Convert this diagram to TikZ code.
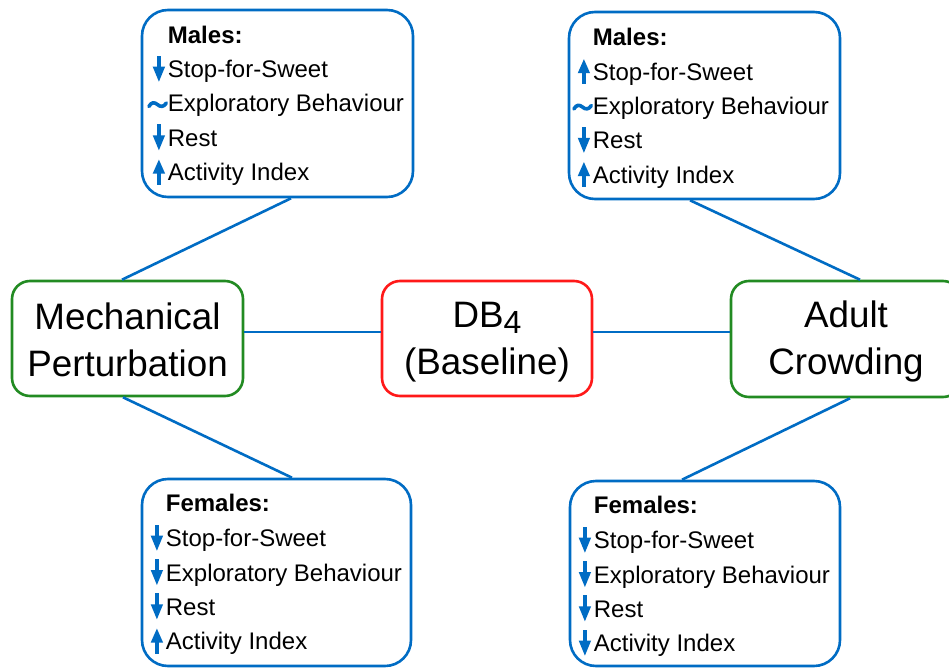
\documentclass[tikz,border=0pt]{standalone}
\usepackage{fontspec}
\setmainfont{Liberation Sans}
\usetikzlibrary{calc}

\definecolor{lineblue}{RGB}{0,108,196}
\definecolor{boxgreen}{RGB}{34,139,34}
\definecolor{boxred}{RGB}{255,25,25}

% small blue markers set in front of each entry
\newcommand\arrdown{\makebox[16pt][l]{\tikz[baseline=0pt,x=1pt,y=1pt]{%
  \useasboundingbox (0,-3) rectangle (16,21);
  \fill[lineblue] (5.4,8) rectangle (8.6,22);
  \fill[lineblue] (0.8,11) -- (13.2,11) -- (7,-4) -- cycle;}}}
\newcommand\arrup{\makebox[16pt][l]{\tikz[baseline=0pt,x=1pt,y=1pt]{%
  \useasboundingbox (0,-3) rectangle (16,21);
  \fill[lineblue] (5.4,-4) rectangle (8.6,9);
  \fill[lineblue] (0.8,7) -- (13.2,7) -- (7,21) -- cycle;}}}
\newcommand\tildemark{\makebox[16pt][l]{\tikz[baseline=0pt,x=1pt,y=1pt]{%
  \useasboundingbox (0,-3) rectangle (16,21);
  \draw[lineblue, line width=3.6pt, line cap=round]
    (-3,5.5) .. controls (-0.5,10) and (2.5,10) .. (5.5,7.5)
    .. controls (8.5,5) and (11.5,4.5) .. (14.5,9);}}}

\begin{document}
\begin{tikzpicture}[x=1pt,y=1pt,
  panel/.style={draw=lineblue, line width=2.6pt, rounded corners=26pt,
    inner sep=0pt},
  hub/.style={line width=2.6pt, rounded corners=18pt, inner sep=0pt},
  hubtext/.style={align=center, inner sep=0pt,
    font=\fontsize{36.8}{47}\selectfont},
  item/.style={anchor=base west, inner sep=0pt,
    font=\fontsize{24}{28}\selectfont},
  heading/.style={anchor=base west, inner sep=0pt,
    font=\fontsize{24}{28}\selectfont\bfseries},
  link/.style={draw=lineblue, line width=2.6pt}]

\useasboundingbox (0,0) rectangle (949,-668);
\fill[white] (0,0) rectangle (949,-668);
\clip (0,0) rectangle (949,-668);

% central hubs
\node[hub, draw=boxgreen, minimum width=231pt, minimum height=115pt]
  (mech) at (127.5,-338.5) {};
\node[hubtext] (mech-t) at ([yshift=-1pt]mech.center) {Mechanical\\Perturbation};
\node[hub, draw=boxred, minimum width=210pt, minimum height=115pt]
  (db) at (487,-338.5) {};
\node[hubtext] (db-t) at ([yshift=-4pt]db.center)
  {DB{\fontsize{32}{32}\selectfont\raisebox{-6pt}{4}}\\(Baseline)};
\node[hub, draw=boxgreen, minimum width=230pt, minimum height=116pt]
  (ac) at (846,-339) {};
\node[hubtext] (ac-t) at ([yshift=-2.5pt]ac.center) {Adult\\Crowding};

% outcome panels
\node[panel, minimum width=271pt, minimum height=187pt] (mm) at (277.5,-103.5) {};
\node[panel, minimum width=271pt, minimum height=187pt] (am) at (704.5,-105.5) {};
\node[panel, minimum width=269pt, minimum height=187pt] (mf) at (276.5,-572.5) {};
\node[panel, minimum width=270pt, minimum height=185pt] (af) at (705,-573.5) {};

% panel contents
\node[heading] (mm-h) at ($(mm.north west)+(27,-35)$) {Males:};
\foreach \s/\t [count=\i] in {\arrdown/Stop-for-Sweet,
    \tildemark/Exploratory Behaviour, \arrdown/Rest, \arrup/Activity Index}
  \node[item] (mm-\i) at ($(mm.north west)+(11,{-69-34.3*(\i-1)})$) {\s\t};

\node[heading] (am-h) at ($(am.north west)+(25,-35)$) {Males:};
\foreach \s/\t [count=\i] in {\arrup/Stop-for-Sweet,
    \tildemark/Exploratory Behaviour, \arrdown/Rest, \arrup/Activity Index}
  \node[item] (am-\i) at ($(am.north west)+(9,{-69.5-34.3*(\i-1)})$) {\s\t};

\node[heading] (mf-h) at ($(mf.north west)+(25,-34)$) {Females:};
\foreach \s/\t [count=\i] in {\arrdown/Stop-for-Sweet,
    \arrdown/Exploratory Behaviour, \arrdown/Rest, \arrup/Activity Index}
  \node[item] (mf-\i) at ($(mf.north west)+(9,{-69-34.3*(\i-1)})$) {\s\t};

\node[heading] (af-h) at ($(af.north west)+(25,-34)$) {Females:};
\foreach \s/\t [count=\i] in {\arrdown/Stop-for-Sweet,
    \arrdown/Exploratory Behaviour, \arrdown/Rest, \arrdown/Activity Index}
  \node[item] (af-\i) at ($(af.north west)+(9,{-69-34.3*(\i-1)})$) {\s\t};

% connectors
\draw[link] ([yshift=6.5pt]mech.east) -- ([yshift=6.5pt]db.west);
\draw[link] ([yshift=6.5pt]db.east) -- ([yshift=7pt]ac.west);
\draw[link] ([xshift=13.5pt]mm.south) -- ([xshift=-5.5pt]mech.north);
\draw[link] ([xshift=-4.5pt]mech.south) -- ([xshift=15.5pt]mf.north);
\draw[link] ([xshift=-14.5pt]am.south) -- ([xshift=14pt]ac.north);
\draw[link] ([xshift=4pt]ac.south) -- ([xshift=-23pt]af.north);
\end{tikzpicture}
\end{document}
